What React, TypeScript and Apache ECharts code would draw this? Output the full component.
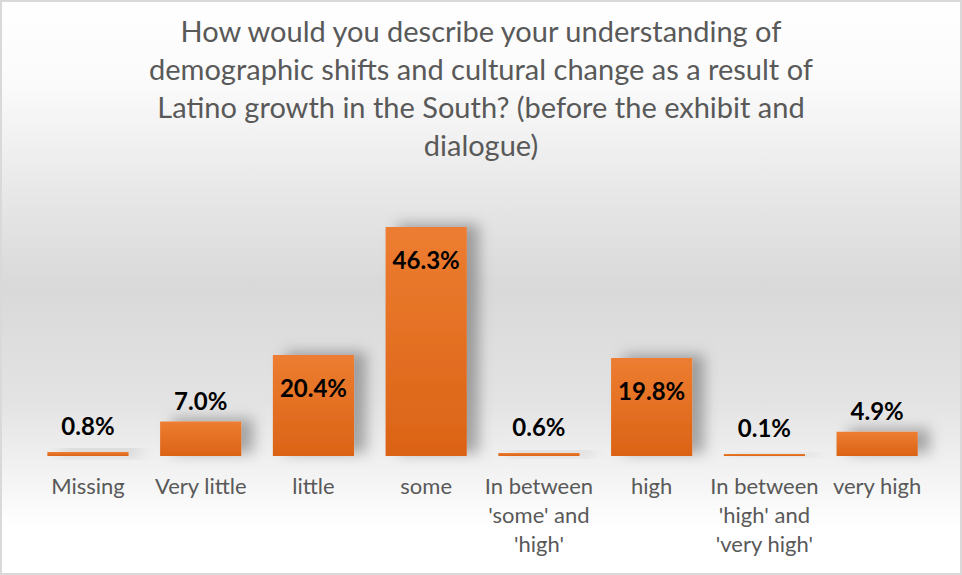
import React, { useEffect, useRef } from "react";
import * as echarts from "echarts";

const titleText =
  "How would you describe your understanding of\ndemographic shifts and cultural change as a result of\nLatino growth in the South? (before the exhibit and\ndialogue)";

const categories = [
  "Missing",
  "Very little",
  "little",
  "some",
  "In between 'some' and 'high'",
  "high",
  "In between 'high' and 'very high'",
  "very high",
];

const percentValues = [0.8, 7.0, 20.4, 46.3, 0.6, 19.8, 0.1, 4.9];

export default function App() {
  const ref = useRef<HTMLDivElement>(null);

  useEffect(() => {
    if (!ref.current) return;
    const chart = echarts.init(ref.current, undefined, { renderer: "svg" });

    const barColor = new echarts.graphic.LinearGradient(0, 0, 0, 1, [
      { offset: 0, color: "#ED7D31" },
      { offset: 1, color: "#DB6316" },
    ]);

    const data = percentValues.map((v) => {
      const inside = v > 15;
      return {
        value: v,
        label: inside
          ? { position: "insideTop", distance: 20 }
          : { position: "top", distance: v < 2 ? 15 : 9 },
      };
    });

    chart.setOption({
      animation: false,
      title: {
        text: titleText,
        left: "center",
        top: 6,
        textStyle: {
          fontFamily: "Lato",
          fontWeight: "normal",
          fontSize: 29,
          lineHeight: 38,
          color: "#595959",
        },
      },
      grid: {
        left: 31.6,
        right: 28.5,
        top: 208.7,
        bottom: 119,
        containLabel: false,
      },
      xAxis: {
        type: "category",
        data: categories,
        axisLine: { show: false },
        axisTick: { show: false },
        axisLabel: {
          interval: 0,
          margin: 15,
          fontFamily: "Lato",
          fontSize: 22,
          lineHeight: 29,
          color: "#595959",
          width: 114,
          overflow: "break",
        },
      },
      yAxis: {
        type: "value",
        min: 0,
        max: 50,
        show: false,
        splitLine: { show: false },
      },
      series: [
        {
          type: "bar",
          data,
          barCategoryGap: "28%",
          barMinHeight: 2,
          itemStyle: {
            color: barColor,
            shadowColor: "rgba(0,0,0,0.3)",
            shadowBlur: 14,
            shadowOffsetX: 12,
            shadowOffsetY: -3,
          },
          label: {
            show: true,
            formatter: (p: any) => p.value.toFixed(1) + "%",
            fontFamily: "Lato",
            fontWeight: "bold",
            fontSize: 24,
            color: "#000000",
          },
        },
      ],
    });

    return () => chart.dispose();
  }, []);

  return (
    <div
      style={{
        position: "fixed",
        left: 0,
        top: 0,
        width: 962,
        height: 575,
        boxSizing: "border-box",
        border: "2px solid #d9d9d9",
        background:
          "linear-gradient(to bottom, #ffffff 0%, #fafafa 15%, #e6e6e6 35%, #d9d9d9 50%, #e3e3e3 70%, #f2f2f2 82%, #ffffff 92%, #ffffff 100%)",
      }}
    >
      <div ref={ref} style={{ position: "absolute", left: -2, top: -2, width: 962, height: 575 }} />
    </div>
  );
}
